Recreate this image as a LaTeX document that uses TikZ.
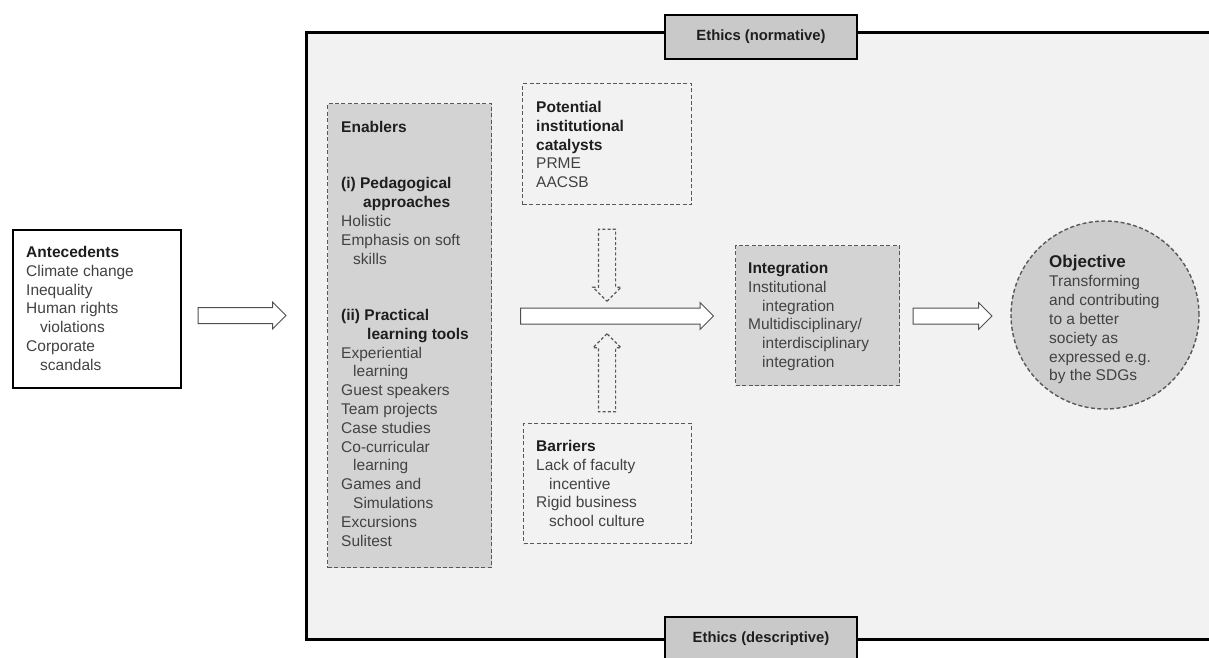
\documentclass[tikz,border=0pt]{standalone}
\usepackage{fontspec}
\setmainfont{Liberation Sans}
\usetikzlibrary{shapes.arrows,shadows}
\definecolor{framebg}{HTML}{F2F2F2}
\definecolor{boxgrey}{HTML}{D3D3D3}
\definecolor{circgrey}{HTML}{CDCDCD}
\definecolor{ethgrey}{HTML}{C9C9C9}
\definecolor{txt}{HTML}{424242}
\definecolor{hd}{HTML}{1E1E1E}
\definecolor{dashc}{HTML}{585858}
\definecolor{arrc}{HTML}{505050}
\newcommand\ind[1]{\hspace*{#1pt}}
\newcommand\hdg[1]{{\bfseries\color{hd}#1}}
\begin{document}
\begin{tikzpicture}[x=1pt,y=-1pt,
  txtblock/.style={anchor=north west, inner sep=0pt, align=left, text=txt,
    font=\fontsize{15.5}{18.8}\selectfont},
  solidbox/.style={draw=black, line width=2.4pt, fill=white,
    drop shadow={shadow xshift=1.2pt, shadow yshift=-1.2pt, opacity=0.35}},
  dashbox/.style={draw=dashc, dash pattern=on 4pt off 2.4pt, line width=1.4pt},
  ethbox/.style={draw=black, line width=1.6pt, fill=ethgrey, minimum width=192pt,
    minimum height=44pt, inner sep=0pt, text=hd,
    font=\fontsize{14.8}{16}\selectfont\bfseries,
    drop shadow={shadow xshift=1.2pt, shadow yshift=-1.2pt, opacity=0.35}},
  blockarr/.style={shape=single arrow, draw=arrc, fill=white, line width=1pt,
    inner xsep=0pt, inner ysep=7.5pt, single arrow head extend=5.5pt,
    single arrow tip angle=90, minimum height=#1},
  dasharr/.style={shape=single arrow, draw=dashc, fill=framebg, line width=1.2pt,
    dash pattern=on 3pt off 2.2pt, inner ysep=0pt, inner xsep=8pt,
    single arrow head extend=5.5pt, single arrow tip angle=90, minimum height=#1},
  rbox/.style={rectangle, inner sep=0pt, anchor=north west}
]
\useasboundingbox (0,0) rectangle (1209,657);
\fill[white] (0,0) rectangle (1209,657);

% main frame
\node[rbox, draw=black, line width=2.6pt, fill=framebg,
  drop shadow={shadow xshift=1.2pt, shadow yshift=-1.2pt, opacity=0.35},
  minimum width=940pt, minimum height=607pt] (frame) at (305,31) {};

% ethics labels
\node[ethbox] (ethn) at (761,37) {Ethics (normative)};
\node[ethbox] (ethd) at (761,639) {Ethics (descriptive)};

% antecedents
\node[rbox, solidbox, minimum width=168pt, minimum height=158pt] (ant) at (12,229) {};
\node[txtblock] (antt) at ([shift={(14pt,-17pt)}]ant.north west)
 {\hdg{Antecedents}\\ Climate change\\ Inequality\\ Human rights\\ \ind{14}violations\\ Corporate\\ \ind{14}scandals};

% enablers
\node[rbox, dashbox, fill=boxgrey, minimum width=164pt, minimum height=464pt] (enab) at (327,103) {};
\node[txtblock] (enabt) at ([shift={(14pt,-18pt)}]enab.north west)
 {\hdg{Enablers}\\[37.6pt]
  \hdg{(i) Pedagogical}\\ \ind{22}\hdg{approaches}\\ Holistic\\ Emphasis on soft\\ \ind{12}skills\\[37.6pt]
  \hdg{(ii) Practical}\\ \ind{26}\hdg{learning tools}\\ Experiential\\ \ind{12}learning\\ Guest speakers\\
  Team projects\\ Case studies\\ Co-curricular\\ \ind{12}learning\\ Games and\\ \ind{12}Simulations\\
  Excursions\\ Sulitest};

% potential catalysts
\node[rbox, dashbox, minimum width=169pt, minimum height=121pt] (pot) at (522,83) {};
\node[txtblock] (pott) at ([shift={(14pt,-18pt)}]pot.north west)
 {\hdg{Potential}\\ \hdg{institutional}\\ \hdg{catalysts}\\ PRME\\ AACSB};

% barriers
\node[rbox, dashbox, minimum width=168pt, minimum height=120pt] (bar) at (523,423) {};
\node[txtblock] (bart) at ([shift={(13pt,-17pt)}]bar.north west)
 {\hdg{Barriers}\\ Lack of faculty\\ \ind{13}incentive\\ Rigid business\\ \ind{13}school culture};

% integration
\node[rbox, dashbox, fill=boxgrey, minimum width=164pt, minimum height=140pt] (integ) at (735,245) {};
\node[txtblock] (integt) at ([shift={(13pt,-17pt)}]integ.north west)
 {\hdg{Integration}\\ Institutional\\ \ind{14}integration\\ Multidisciplinary/\\ \ind{14}interdisciplinary\\ \ind{14}integration};

% objective
\node[circle, dashbox, fill=circgrey, minimum size=188pt, inner sep=0pt] (obj) at (1105,315) {};
\node[txtblock] (objt) at (1049,255)
 {{\fontsize{17}{17}\selectfont\hdg{Objective}}\\[0.6pt] Transforming\\ and contributing\\ to a better\\ society as\\ expressed e.g.\\ by the SDGs};

% block arrows
\node[blockarr=88pt] (a1) at (238,315.5) {};
\node[blockarr=193pt] (a2) at (613,316) {};
\node[blockarr=79pt] (a3) at (948.5,316) {};
\node[dasharr=72pt, shape border rotate=270] (ad) at (607,261) {};
\node[dasharr=78pt, shape border rotate=90] (au) at (607,377) {};
\end{tikzpicture}
\end{document}
